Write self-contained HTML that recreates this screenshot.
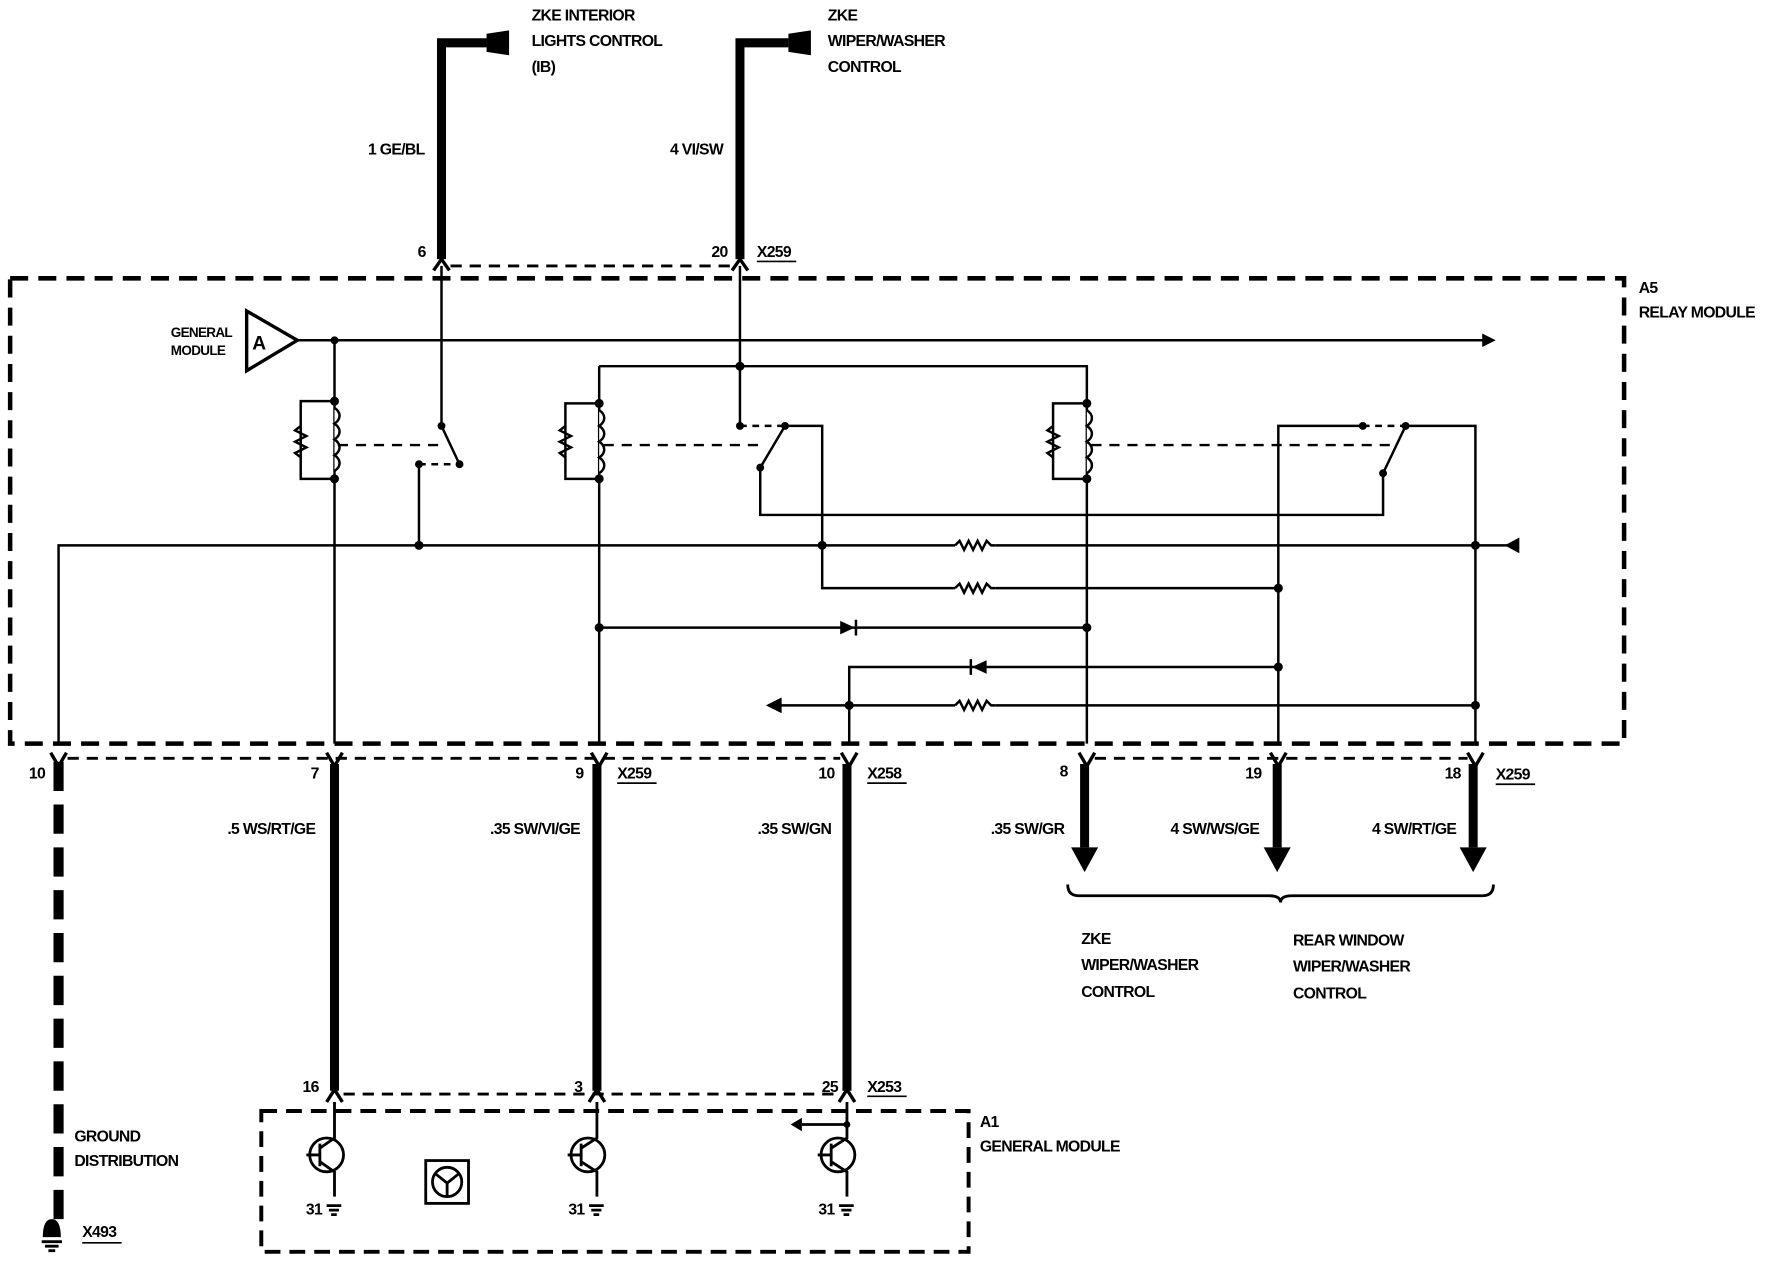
<!DOCTYPE html>
<html><head><meta charset="utf-8"><style>
html,body{margin:0;padding:0;background:#fff;}
svg{display:block;}
text{font-family:"Liberation Sans",sans-serif;font-weight:bold;font-size:14px;fill:#000;letter-spacing:-0.6px;}
</style></head><body>
<svg width="1766" height="1280" viewBox="0 0 1568 1136" preserveAspectRatio="none" xmlns="http://www.w3.org/2000/svg">
<g stroke="#000" fill="none" stroke-width="2.2">
<path d="M392 230 V38 H432" stroke-width="8"/>
<path d="M657 230 V38 H700" stroke-width="8"/>
<path d="M385 240 L392 230 L399 240" stroke-width="3"/>
<path d="M650 240 L657 230 L664 240" stroke-width="3"/>
<path d="M400 236 H650" stroke-dasharray="10,7" stroke-width="2.5"/>
<rect x="9" y="247" width="1433" height="413" stroke-width="4" stroke-dasharray="16,9"/>
<path d="M219 276 L264 302 L219 329 Z" stroke-width="3"/>
<path d="M264 302 H1318"/>
<path d="M297 302 V660"/>
<path d="M297 356 H267 V425 H297"/>
<path d="M267 378 l-5 4 l10 5 l-10 5 l10 5 l-10 5 l5 4"/>
<path d="M297 362 c6 4 6 10 0 14 c6 4 6 10 0 14 c6 4 6 10 0 14 c6 4 6 10 0 14" fill="#fff"/>
<path d="M300 395 H390" stroke-dasharray="9,7"/>
<path d="M392 236 V378 L408 412"/>
<path d="M372 412 H406" stroke-dasharray="6,5"/>
<path d="M372 412 V484"/>
<path d="M52 660 V484 H1340"/>
<path d="M532 325 V660 M532 325 H965 V660"/>
<path d="M532 358 H502 V425 H532"/>
<path d="M502 378 l-5 4 l10 5 l-10 5 l10 5 l-10 5 l5 4"/>
<path d="M532 364 c6 4 6 10 0 14 c6 4 6 10 0 14 c6 4 6 10 0 14 c6 4 6 10 0 14" fill="#fff"/>
<path d="M536 395 H680" stroke-dasharray="9,7"/>
<path d="M657 236 V378"/>
<path d="M657 378 H697" stroke-dasharray="6,5"/>
<path d="M697 378 L675 415 V457 H1228 V420"/>
<path d="M697 378 H730 V522 H1135"/>
<path d="M965 358 H935 V425 H965"/>
<path d="M935 378 l-5 4 l10 5 l-10 5 l10 5 l-10 5 l5 4"/>
<path d="M965 364 c6 4 6 10 0 14 c6 4 6 10 0 14 c6 4 6 10 0 14 c6 4 6 10 0 14" fill="#fff"/>
<path d="M969 395 H1240" stroke-dasharray="9,7"/>
<path d="M1135 660 V378 H1210"/>
<path d="M1210 378 H1248" stroke-dasharray="6,5"/>
<path d="M1248 378 H1310 V660 M1248 378 L1228 420"/>
<path d="M532 557 H965"/>
<path d="M754 660 V592 H1135"/>
<path d="M692 626 H1310"/>
</g>
<g fill="#fff" stroke="none">
<rect x="848" y="478" width="36" height="12"/><rect x="848" y="516" width="36" height="12"/><rect x="848" y="620" width="36" height="12"/>
</g>
<g stroke="#000" fill="none" stroke-width="2.2">
<path d="M848 484 l4 -4 l4 8 l4 -8 l4 8 l4 -8 l4 8 l4 -8 l4 4 h4"/>
<path d="M848 522 l4 -4 l4 8 l4 -8 l4 8 l4 -8 l4 8 l4 -8 l4 4 h4"/>
<path d="M848 626 l4 -4 l4 8 l4 -8 l4 8 l4 -8 l4 8 l4 -8 l4 4 h4"/>
<path d="M760 550 V564 M862 585 V599"/>
</g>
<g fill="#000">
<polygon points="746,551 746,563 759,557"/>
<polygon points="876,586 876,598 863,592"/>
<polygon points="1316,296 1328,302 1316,308"/>
<polygon points="1349,477 1349,491 1336,484"/>
<polygon points="694,619 694,633 680,626"/>
<polygon points="432,30 452,27 452,49 432,46"/>
<polygon points="700,30 720,27 720,49 700,46"/>
<text x="224" y="310" style="font-size:17px">A</text>
<circle cx="297" cy="302" r="3.5"/><circle cx="297" cy="356" r="4"/><circle cx="297" cy="425" r="4"/>
<circle cx="392" cy="378" r="3.5"/><circle cx="408" cy="412" r="3.5"/><circle cx="372" cy="412" r="3.5"/><circle cx="372" cy="484" r="4"/>
<circle cx="532" cy="358" r="4"/><circle cx="532" cy="425" r="4"/><circle cx="657" cy="325" r="4"/>
<circle cx="657" cy="378" r="3.5"/><circle cx="697" cy="378" r="3.5"/><circle cx="675" cy="415" r="3.5"/>
<circle cx="965" cy="358" r="4"/><circle cx="965" cy="425" r="4"/>
<circle cx="1210" cy="378" r="3.5"/><circle cx="1248" cy="378" r="3.5"/><circle cx="1228" cy="420" r="3.5"/>
<circle cx="730" cy="484" r="4"/><circle cx="1310" cy="484" r="4"/><circle cx="1135" cy="522" r="4"/>
<circle cx="532" cy="557" r="4"/><circle cx="965" cy="557" r="4"/><circle cx="1135" cy="592" r="4"/>
<circle cx="754" cy="626" r="4"/><circle cx="1310" cy="626" r="4"/>
</g>
<g stroke="#000" fill="none">
<path d="M45 668 L52 680 L59 668 M290 668 L297 680 L304 668 M525 668 L532 680 L539 668 M747 668 L754 680 L761 668 M958 668 L965 680 L972 668 M1128 668 L1135 680 L1142 668 M1303 668 L1310 680 L1317 668" stroke-width="3"/>
<path d="M60 673 H746 M972 673 H1303" stroke-dasharray="10,7" stroke-width="2.5"/>
<path d="M52 676 V1082" stroke-width="9" stroke-dasharray="26,12"/>
<path d="M297 678 V968 M530 678 V968 M752 678 V968" stroke-width="8"/>
<path d="M963 678 V752 M1134 678 V752 M1308 678 V752" stroke-width="8"/>
<path d="M948 785 q0 10 10 10 H1127 q10 0 10 6 q0 -6 10 -6 H1316 q10 0 10 -10" stroke-width="2.5"/>
<path d="M290 978 L297 967 L304 978 M523 978 L530 967 L537 978 M745 978 L752 967 L759 978" stroke-width="3"/>
<path d="M305 971 H745" stroke-dasharray="10,7" stroke-width="2.5"/>
<rect x="232" y="986" width="628" height="125" stroke-width="3.5" stroke-dasharray="14,8"/>
<g stroke-width="2.5">
<circle cx="290" cy="1025" r="15"/><circle cx="522" cy="1025" r="15"/><circle cx="744" cy="1025" r="15"/>
<path d="M284 1015 V1035 M272 1025 H284 M284 1019 L297 1010 V978 M284 1031 L297 1040 V1062"/>
<path d="M516 1015 V1035 M504 1025 H516 M516 1019 L530 1010 V978 M516 1031 L530 1040 V1062"/>
<path d="M738 1015 V1035 M726 1025 H738 M738 1019 L752 1010 V978 M738 1031 L752 1040 V1062"/>
<path d="M752 998 H712"/>
<rect x="378" y="1030" width="38" height="38"/><circle cx="397" cy="1049" r="13"/>
<path d="M387 1042 L397 1050 L407 1042 M397 1050 V1062"/>
<path d="M290 1070 H303 M292 1074 H301 M294 1078 H299 M523 1070 H536 M525 1074 H534 M527 1078 H532 M745 1070 H758 M747 1074 H756 M749 1078 H754"/>
<path d="M37 1102 H55 M40 1106 H52 M43 1110 H49"/>
</g>
</g>
<g fill="#000">
<polygon points="951,752 975,752 963,774"/><polygon points="1122,752 1146,752 1134,774"/><polygon points="1296,752 1320,752 1308,774"/>
<polygon points="712,992 712,1004 702,998"/>
<path d="M38 1098 Q38 1082 46 1082 Q54 1082 54 1098 Z"/>
<circle cx="752" cy="998" r="3"/>
</g>
<text x="472" y="18">ZKE INTERIOR</text>
<text x="472" y="41">LIGHTS CONTROL</text>
<text x="472" y="64">(IB)</text>
<text x="735" y="18">ZKE</text>
<text x="735" y="41">WIPER/WASHER</text>
<text x="735" y="64">CONTROL</text>
<text x="377" y="137" text-anchor="end">1 GE/BL</text>
<text x="642" y="137" text-anchor="end">4 VI/SW</text>
<text x="378" y="228" text-anchor="end">6</text>
<text x="646" y="228" text-anchor="end">20</text>
<text x="672" y="228">X259</text>
<path d="M672 232 H707" stroke="#000" stroke-width="1.5"/>
<text x="1455" y="260">A5</text>
<text x="1455" y="282">RELAY MODULE</text>
<text x="206" y="299" text-anchor="end" style="font-size:12px">GENERAL</text>
<text x="200" y="315" text-anchor="end" style="font-size:12px">MODULE</text>
<text x="40" y="691" text-anchor="end">10</text>
<text x="283" y="691" text-anchor="end">7</text>
<text x="518" y="691" text-anchor="end">9</text>
<text x="548" y="691">X259</text>
<text x="741" y="691" text-anchor="end">10</text>
<text x="770" y="691">X258</text>
<text x="948" y="689" text-anchor="end">8</text>
<text x="1120" y="691" text-anchor="end">19</text>
<text x="1297" y="691" text-anchor="end">18</text>
<text x="1328" y="692">X259</text>
<path d="M548 695 H583 M770 695 H805 M1328 696 H1363" stroke="#000" stroke-width="1.5"/>
<text x="280" y="740" text-anchor="end">.5 WS/RT/GE</text>
<text x="515" y="740" text-anchor="end">.35 SW/VI/GE</text>
<text x="738" y="740" text-anchor="end">.35 SW/GN</text>
<text x="945" y="740" text-anchor="end">.35 SW/GR</text>
<text x="1118" y="740" text-anchor="end">4 SW/WS/GE</text>
<text x="1293" y="740" text-anchor="end">4 SW/RT/GE</text>
<text x="960" y="838">ZKE</text>
<text x="960" y="861">WIPER/WASHER</text>
<text x="960" y="885">CONTROL</text>
<text x="1148" y="839">REAR WINDOW</text>
<text x="1148" y="862">WIPER/WASHER</text>
<text x="1148" y="886">CONTROL</text>
<text x="283" y="969" text-anchor="end">16</text>
<text x="517" y="969" text-anchor="end">3</text>
<text x="744" y="969" text-anchor="end">25</text>
<text x="770" y="969">X253</text>
<path d="M770 973 H805" stroke="#000" stroke-width="1.5"/>
<text x="870" y="1000">A1</text>
<text x="870" y="1022">GENERAL MODULE</text>
<text x="66" y="1013">GROUND</text>
<text x="66" y="1035">DISTRIBUTION</text>
<text x="73" y="1098">X493</text>
<path d="M73 1103 H108" stroke="#000" stroke-width="1.5"/>
<text x="286" y="1078" text-anchor="end">31</text>
<text x="519" y="1078" text-anchor="end">31</text>
<text x="741" y="1078" text-anchor="end">31</text>
</svg>
</body></html>
